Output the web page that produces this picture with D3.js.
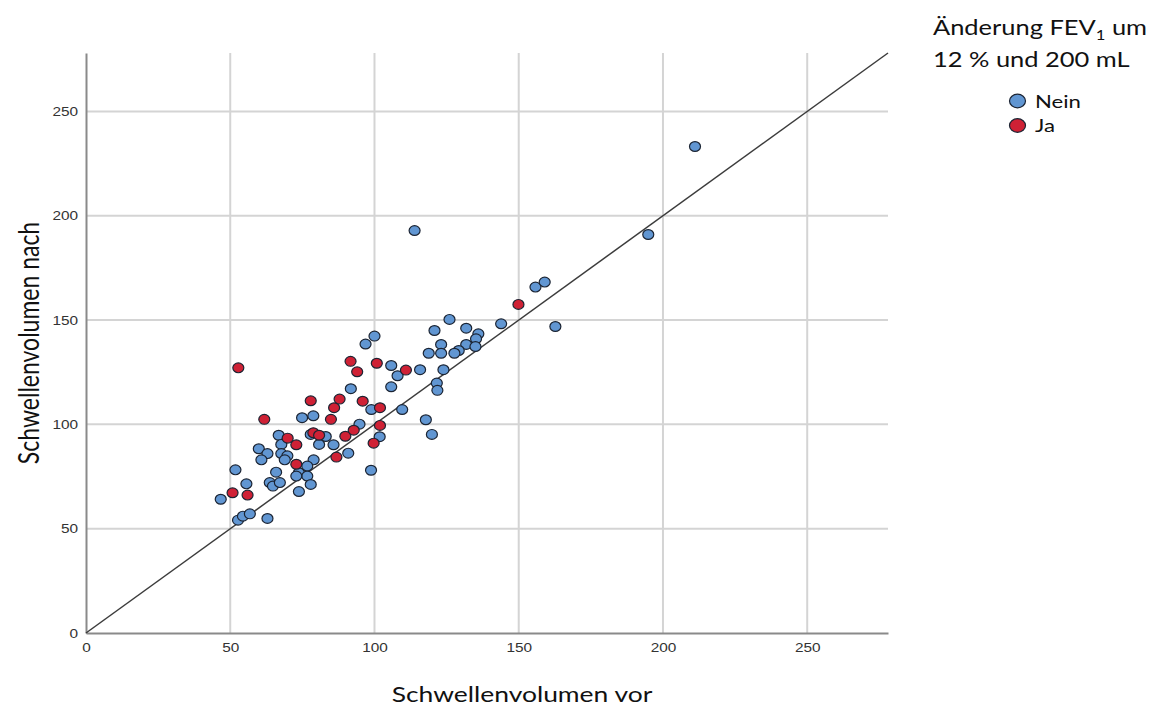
<!DOCTYPE html>
<html>
<head>
<meta charset="utf-8">
<script src="https://cdn.jsdelivr.net/npm/d3@7"></script>
<style>
	body { margin: 0; background: #fff; }
	svg { display: block; }
	.tick text { font-family: 'Liberation Sans', Arial, sans-serif; font-size: 12.5px; fill: #333; }
</style>
</head>
<body>
<script>
// Schwellenvolumen vor / nach, Gruppe "Nein"
const neinVor = [211.1, 194.9, 113.9, 155.8, 159.0, 162.7, 143.9, 126.0, 120.8, 131.8, 136.0, 135.2, 131.8, 129.2,
	127.7, 135.0, 123.1, 118.8, 123.1, 100.0, 96.9, 115.8, 123.9, 105.8, 108.0, 105.8, 121.6, 121.8, 91.8,
	98.9, 109.6, 117.8, 119.9, 94.8, 101.8, 85.8, 74.9, 78.8, 66.8, 77.9, 83.1, 67.7, 80.8, 59.9, 62.9,
	60.8, 67.7, 69.8, 68.9, 90.9, 78.9, 51.8, 65.9, 73.8, 76.7, 76.7, 72.9, 77.9, 98.8, 55.6, 63.7, 64.8,
	67.2, 73.8, 46.7, 52.7, 54.4, 56.8, 62.9];
const neinNach = [233.2, 191.0, 192.9, 165.8, 168.2, 146.9, 148.2, 150.3, 145.0, 146.1, 143.4, 141.0, 138.3, 135.4,
	134.1, 137.3, 138.3, 134.1, 134.1, 142.3, 138.5, 126.2, 126.2, 128.2, 123.3, 118.0, 119.8, 116.3, 117.1,
	107.1, 107.1, 102.2, 95.2, 100.1, 94.1, 90.2, 103.2, 104.1, 94.8, 95.2, 94.2, 90.4, 90.4, 88.3, 86.0,
	83.0, 86.0, 84.9, 83.0, 86.2, 83.0, 78.2, 77.1, 76.8, 80.0, 75.2, 75.2, 71.2, 78.0, 71.5, 72.1, 70.4,
	72.1, 67.8, 64.1, 54.1, 56.0, 57.1, 54.9];

// Gruppe "Ja"
const jaVor = [52.8, 91.7, 94.0, 100.8, 110.9, 77.9, 87.9, 86.0, 95.9, 101.9, 61.8, 84.9, 78.8, 80.8, 69.9,
	72.9, 89.9, 92.8, 101.9, 99.7, 86.8, 72.9, 50.8, 56.0, 149.9];
const jaNach = [127.1, 130.2, 125.2, 129.3, 126.0, 111.3, 112.1, 108.0, 111.1, 108.0, 102.4, 102.4, 96.0, 94.8, 93.4,
	90.2, 94.3, 97.2, 99.5, 91.0, 84.3, 80.9, 67.2, 66.1, 157.5];

const groups = ['Nein', 'Ja'];
const groupColors = ['#6196d2', '#cf2135'];
const tickValues = [0, 50, 100, 150, 200, 250];
const axisMax = 278;

// the original export is a bit wider than tall, so text and markers get stretched sideways
const sx = 1.23;

const svgSize = {width: 1153, height: 709};
const margin = {top: 53, right: 265, bottom: 76, left: 86};
const chartSize = {width: svgSize.width - margin.left - margin.right, height: svgSize.height - margin.top - margin.bottom};
const titleFont = 'Lato, "Open Sans", sans-serif';

const svg = d3.select('body').append('svg')
	.attr('width', svgSize.width)
	.attr('height', svgSize.height);

const x = d3.scaleLinear().domain([0, axisMax]).range([0, chartSize.width]);
const y = d3.scaleLinear().domain([0, axisMax]).range([chartSize.height, 0]);
const color = d3.scaleOrdinal().domain(groups).range(groupColors);

const chart = svg.append('g')
	.attr('transform', `translate(${margin.left}, ${margin.top})`);

// gridlines
chart.append('g')
	.selectAll('line')
	.data(tickValues.filter(d => d > 0))
	.enter()
	.append('line')
	.attr('x1', d => x(d)).attr('x2', d => x(d))
	.attr('y1', 0).attr('y2', chartSize.height)
	.attr('stroke', '#d4d4d4').attr('stroke-width', 2);

chart.append('g')
	.selectAll('line')
	.data(tickValues.filter(d => d > 0))
	.enter()
	.append('line')
	.attr('x1', 0).attr('x2', chartSize.width)
	.attr('y1', d => y(d)).attr('y2', d => y(d))
	.attr('stroke', '#d4d4d4').attr('stroke-width', 2);

// axes
const xAxis = chart.append('g')
	.attr('transform', `translate(0, ${chartSize.height})`)
	.call(d3.axisBottom(x).tickValues(tickValues).tickSize(0).tickPadding(10));
xAxis.select('.domain').attr('stroke', '#8a8a8a').attr('stroke-width', 2);
xAxis.selectAll('.tick text').attr('transform', `scale(${sx}, 1)`);

const yAxis = chart.append('g')
	.call(d3.axisLeft(y).tickValues(tickValues).tickSize(0).tickPadding(6.5));
yAxis.select('.domain').attr('stroke', '#8a8a8a').attr('stroke-width', 2);
yAxis.selectAll('.tick text').attr('transform', `scale(${sx}, 1)`);

// diagonal reference line
chart.append('line')
	.attr('x1', x(0)).attr('y1', y(0))
	.attr('x2', x(axisMax)).attr('y2', y(axisMax))
	.attr('stroke', '#3c3c3c').attr('stroke-width', 1.5);

// points
const points = [];
neinVor.forEach((v, i) => points.push({group: 'Nein', vor: v, nach: neinNach[i]}));
jaVor.forEach((v, i) => points.push({group: 'Ja', vor: v, nach: jaNach[i]}));

chart.append('g')
	.selectAll('ellipse')
	.data(points)
	.enter()
	.append('ellipse')
	.attr('cx', d => x(d.vor))
	.attr('cy', d => y(d.nach))
	.attr('rx', 5.5)
	.attr('ry', 4.9)
	.attr('fill', d => color(d.group))
	.attr('stroke', '#1b2433')
	.attr('stroke-width', 1.2);

// axis titles
svg.append('text')
	.attr('transform', `translate(522, 702) scale(${sx}, 1)`)
	.attr('text-anchor', 'middle')
	.style('font-family', titleFont)
	.style('font-size', '21.5px')
	.attr('fill', '#111')
	.text('Schwellenvolumen vor');

svg.append('text')
	.attr('transform', `translate(39, 343) scale(${sx}, 1) rotate(-90)`)
	.attr('text-anchor', 'middle')
	.style('font-family', titleFont)
	.style('font-size', '23px')
	.attr('fill', '#111')
	.text('Schwellenvolumen nach');

// legend
const legend = svg.append('g').attr('transform', 'translate(933, 0)');
const title1 = legend.append('text')
	.attr('transform', `translate(0, 35) scale(${sx}, 1)`)
	.style('font-family', titleFont)
	.style('font-size', '20.7px')
	.attr('fill', '#111');
title1.append('tspan').text('Änderung FEV');
title1.append('tspan').attr('dy', 5).style('font-size', '13.5px').text('1');
title1.append('tspan').attr('dy', -5).text(' um');

legend.append('text')
	.attr('transform', `translate(0, 67) scale(${sx}, 1)`)
	.style('font-family', titleFont)
	.style('font-size', '20.7px')
	.attr('fill', '#111')
	.text('12 % und 200 mL');

const items = legend.selectAll('g.item')
	.data(groups)
	.enter()
	.append('g')
	.attr('transform', (d, i) => `translate(84.5, ${101 + i * 24.5})`);

items.append('ellipse')
	.attr('rx', 8)
	.attr('ry', 6.8)
	.attr('fill', d => color(d))
	.attr('stroke', '#1b2433')
	.attr('stroke-width', 1.2);

items.append('text')
	.attr('transform', `translate(17.5, 6.5) scale(${sx}, 1)`)
	.style('font-family', titleFont)
	.style('font-size', '18px')
	.attr('fill', '#111')
	.text(d => d);
</script>
</body>
</html>
